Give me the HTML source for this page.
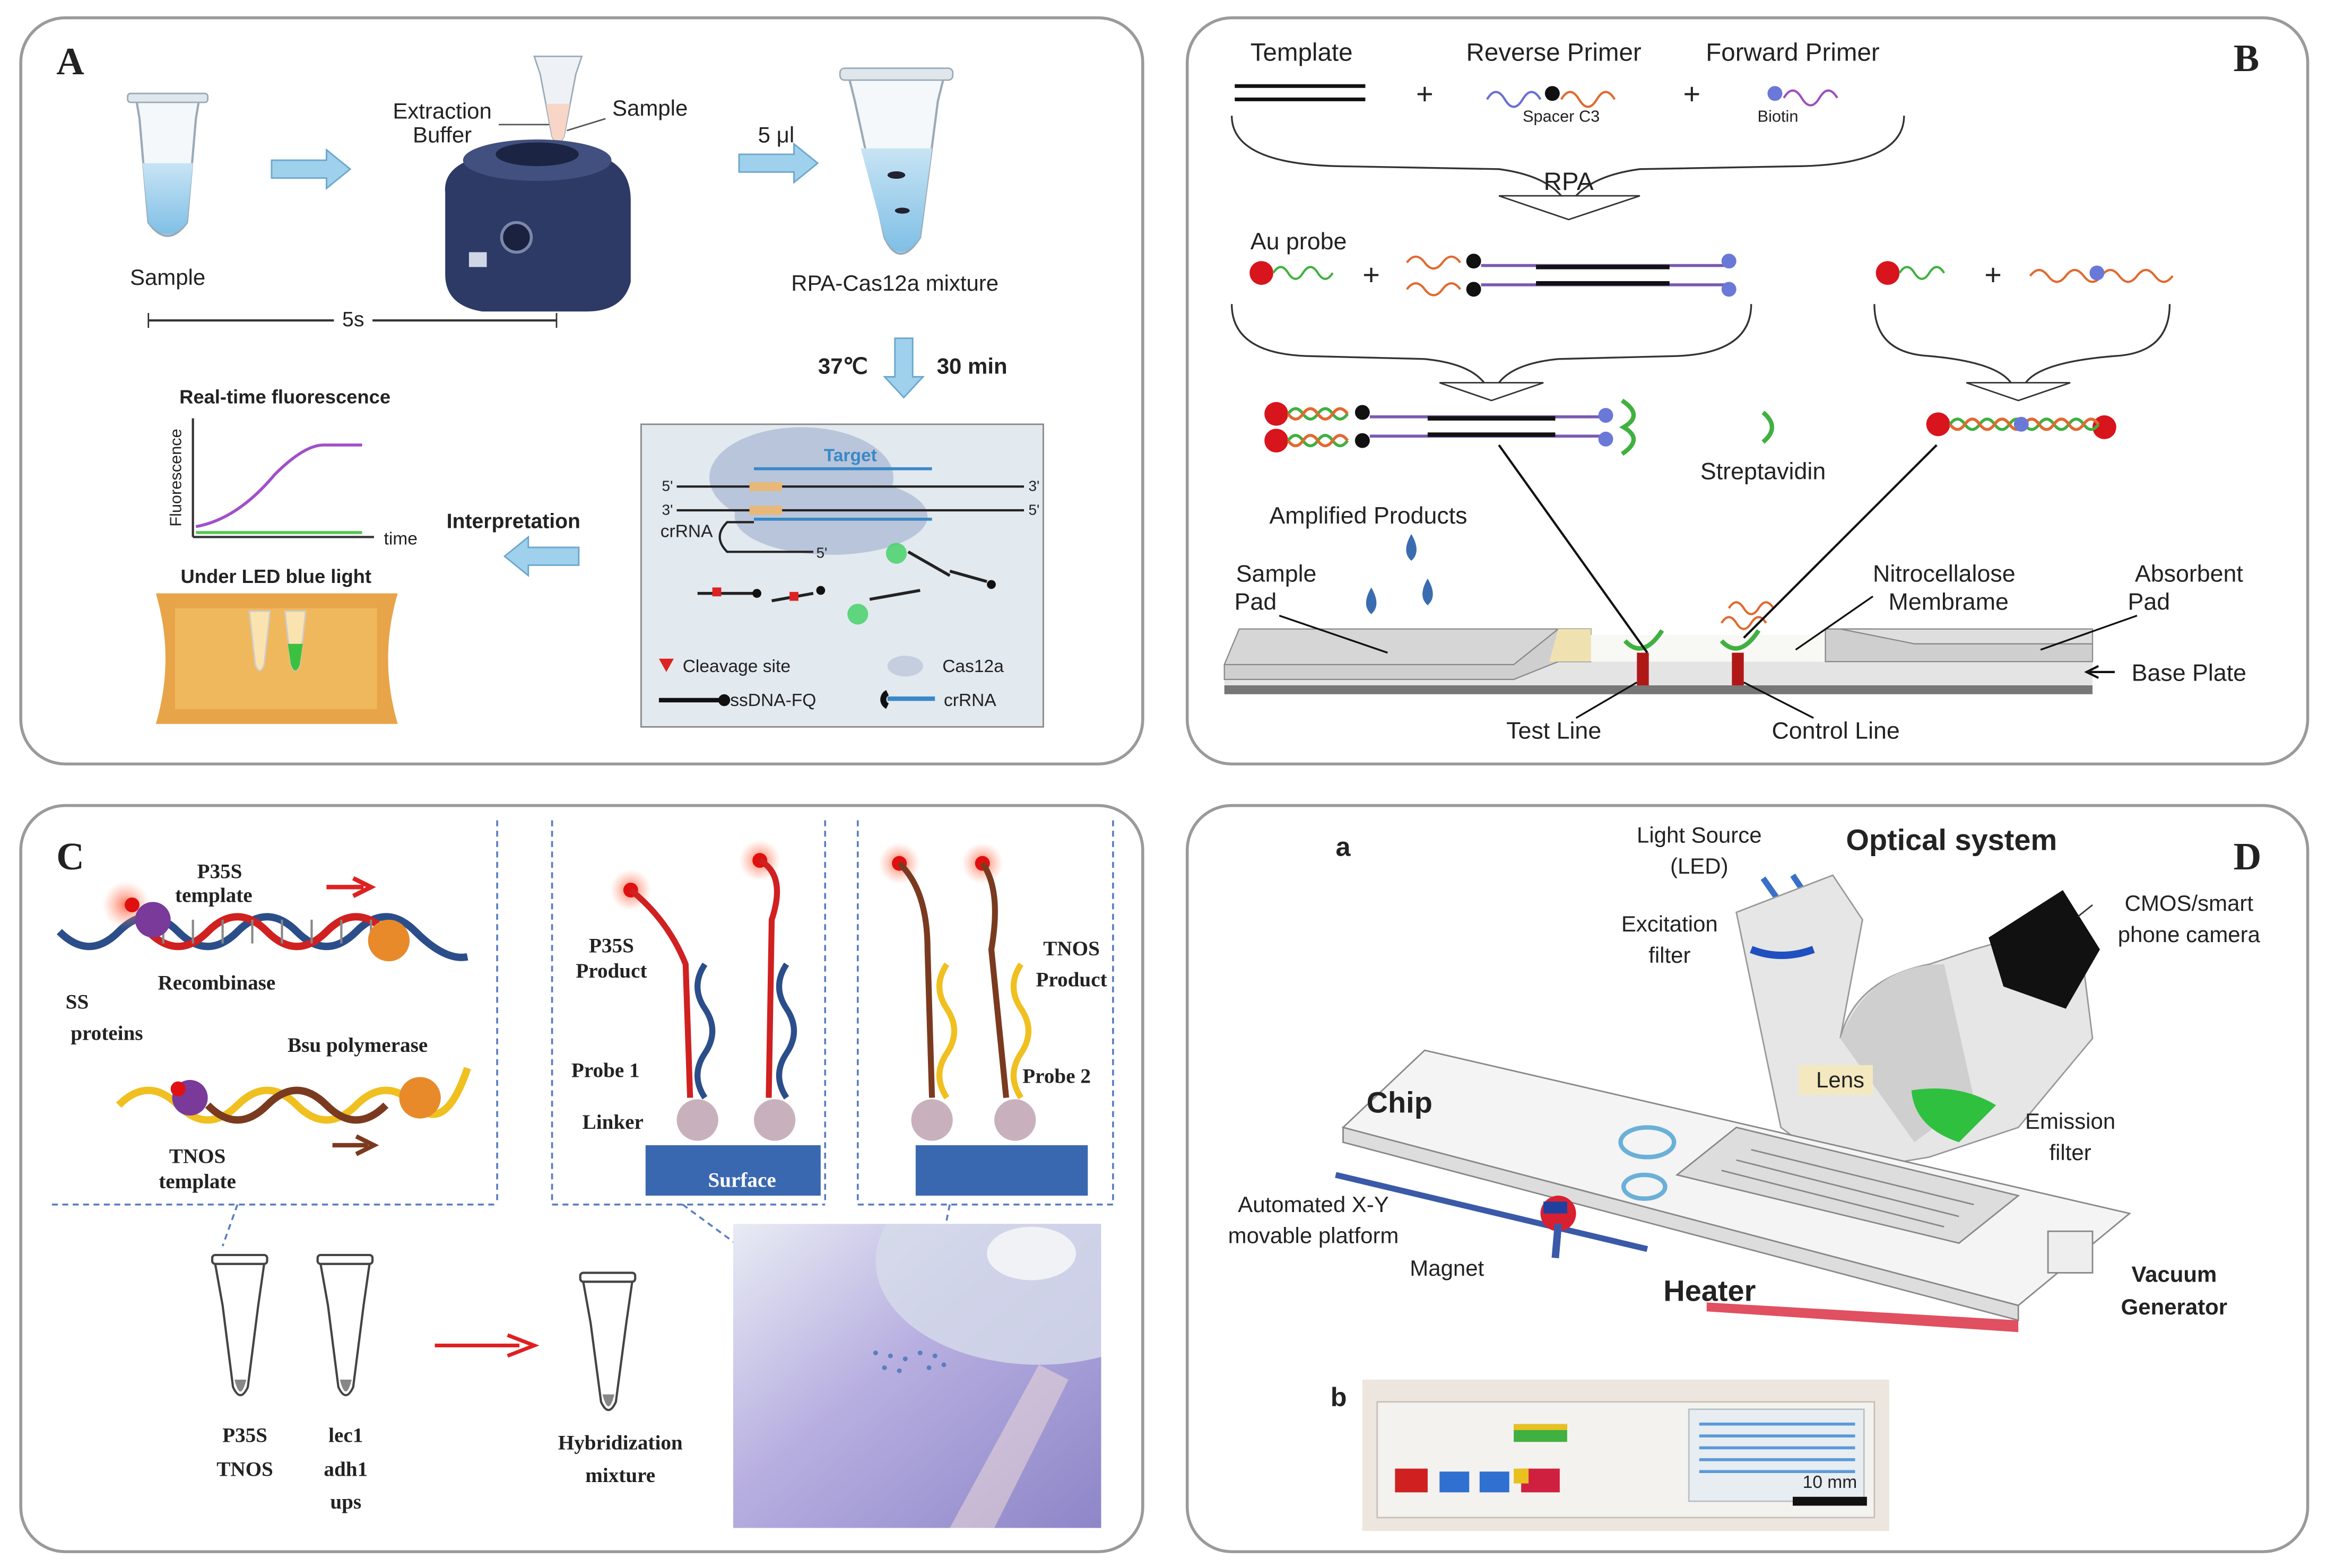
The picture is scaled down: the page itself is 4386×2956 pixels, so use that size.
<!DOCTYPE html>
<html><head><meta charset="utf-8"><style>
html,body{margin:0;padding:0;background:#fff;}
svg{display:block;}
.s{font-family:"Liberation Sans",sans-serif;fill:#222;}
.r{font-family:"Liberation Serif",serif;font-weight:bold;fill:#222;}
</style></head><body>
<svg width="4386" height="2956" viewBox="0 0 1568 1057" preserveAspectRatio="none" xmlns="http://www.w3.org/2000/svg">
<defs>
<linearGradient id="cd" x1="0" y1="0" x2="1" y2="1"><stop offset="0" stop-color="#e8ecf4"/><stop offset="0.45" stop-color="#b7aee0"/><stop offset="1" stop-color="#8d86c8"/></linearGradient>
<radialGradient id="glow"><stop offset="0" stop-color="#ff5030" stop-opacity="0.8"/><stop offset="1" stop-color="#ff9070" stop-opacity="0"/></radialGradient>
<linearGradient id="liq" x1="0" y1="0" x2="0" y2="1"><stop offset="0" stop-color="#c8e4f4"/><stop offset="1" stop-color="#7fbfe6"/></linearGradient>
<clipPath id="cdclip"><rect x="494" y="825" width="248" height="205"/></clipPath>
</defs>
<rect x="14" y="12" width="756" height="503" rx="30" fill="#fff" stroke="#9a9a9a" stroke-width="2"/>
<rect x="800" y="12" width="755" height="503" rx="30" fill="#fff" stroke="#9a9a9a" stroke-width="2"/>
<rect x="14" y="543" width="756" height="503" rx="30" fill="#fff" stroke="#9a9a9a" stroke-width="2"/>
<rect x="800" y="543" width="755" height="503" rx="30" fill="#fff" stroke="#9a9a9a" stroke-width="2"/>

<!-- ========== PANEL A ========== -->
<text x="38" y="50" class="r" font-size="26">A</text>
<path d="M92 68 L134 68 L132 80 L126 150 Q113 168 100 150 L94 80 Z" fill="#f4f8fb" stroke="#9aaab8" stroke-width="1.5"/>
<path d="M96 110 L130 110 L126 150 Q113 166 100 150 Z" fill="url(#liq)"/>
<rect x="86" y="63" width="54" height="6" rx="2" fill="#dfe6ec" stroke="#9aaab8"/>
<text x="113" y="192" class="s" font-size="15" text-anchor="middle">Sample</text>
<path d="M183 108 L220 108 L220 101 L236 114 L220 127 L220 120 L183 120 Z" fill="#9fd0ec" stroke="#6aa6cc"/>
<path d="M360 38 L392 38 L388 50 L380 92 Q376 100 372 92 L364 50 Z" fill="#eef2f6" stroke="#9aaab8"/>
<path d="M368 70 L384 70 L380 92 Q376 100 372 92Z" fill="#f7d6c8"/>
<path d="M300 130 Q298 110 330 104 L400 104 Q425 110 425 135 L425 190 Q420 210 395 210 L325 210 Q300 206 300 185 Z" fill="#2d3a66"/>
<ellipse cx="362" cy="108" rx="50" ry="14" fill="#41507e"/>
<ellipse cx="362" cy="104" rx="28" ry="8" fill="#1c2444"/>
<circle cx="348" cy="160" r="10" fill="#1b2240" stroke="#7c88aa" stroke-width="2"/>
<rect x="316" y="170" width="12" height="10" fill="#cfd6e4"/>
<text x="298" y="80" class="s" font-size="15" text-anchor="middle">Extraction</text>
<text x="298" y="96" class="s" font-size="15" text-anchor="middle">Buffer</text>
<line x1="336" y1="84" x2="370" y2="84" stroke="#555"/>
<text x="438" y="78" class="s" font-size="15" text-anchor="middle">Sample</text>
<line x1="408" y1="80" x2="382" y2="88" stroke="#555"/>
<text x="523" y="96" class="s" font-size="15" text-anchor="middle">5 μl</text>
<path d="M498 104 L535 104 L535 97 L551 110 L535 123 L535 116 L498 116 Z" fill="#9fd0ec" stroke="#6aa6cc"/>
<path d="M572 52 L636 52 L632 68 L620 160 Q606 182 596 160 L576 68 Z" fill="#f4f8fb" stroke="#9aaab8" stroke-width="1.5"/>
<path d="M580 100 L628 100 L620 160 Q606 180 596 160 Z" fill="url(#liq)"/>
<rect x="566" y="46" width="76" height="8" rx="3" fill="#dfe6ec" stroke="#9aaab8"/>
<ellipse cx="604" cy="118" rx="6" ry="2.5" fill="#223"/><ellipse cx="608" cy="142" rx="5" ry="2" fill="#223"/>
<text x="603" y="196" class="s" font-size="15" text-anchor="middle">RPA-Cas12a mixture</text>
<line x1="100" y1="216" x2="375" y2="216" stroke="#333" stroke-width="1.5"/>
<line x1="100" y1="211" x2="100" y2="221" stroke="#333"/><line x1="375" y1="211" x2="375" y2="221" stroke="#333"/>
<rect x="225" y="206" width="26" height="16" fill="#fff"/>
<text x="238" y="220" class="s" font-size="14" text-anchor="middle">5s</text>
<text x="568" y="252" class="s" font-size="15" font-weight="bold" text-anchor="middle">37℃</text>
<path d="M603 228 L615 228 L615 254 L622 254 L609 268 L596 254 L603 254 Z" fill="#9fd0ec" stroke="#6aa6cc"/>
<text x="655" y="252" class="s" font-size="15" font-weight="bold" text-anchor="middle">30 min</text>
<rect x="432" y="286" width="271" height="204" fill="#e2e9ef" stroke="#888"/>
<ellipse cx="540" cy="322" rx="62" ry="34" fill="#b9c5da"/>
<ellipse cx="560" cy="348" rx="65" ry="26" fill="#b9c5da"/>
<text x="573" y="311" class="s" font-size="12" font-weight="bold" text-anchor="middle" style="fill:#3a88c8">Target</text>
<line x1="508" y1="316" x2="628" y2="316" stroke="#3a88c8" stroke-width="2"/>
<line x1="456" y1="328" x2="690" y2="328" stroke="#222" stroke-width="1.5"/>
<line x1="456" y1="344" x2="690" y2="344" stroke="#222" stroke-width="1.5"/>
<line x1="508" y1="350" x2="628" y2="350" stroke="#3a88c8" stroke-width="2"/>
<rect x="505" y="325" width="22" height="6" fill="#e8b878"/><rect x="505" y="341" width="22" height="6" fill="#e8b878"/>
<path d="M508 352 L490 352 Q480 362 490 372 L548 372" fill="none" stroke="#222" stroke-width="1.5"/>
<text x="446" y="331" class="s" font-size="10">5'</text><text x="446" y="347" class="s" font-size="10">3'</text>
<text x="693" y="331" class="s" font-size="10">3'</text><text x="693" y="347" class="s" font-size="10">5'</text>
<text x="445" y="362" class="s" font-size="12">crRNA</text>
<text x="550" y="376" class="s" font-size="10">5'</text>
<circle cx="604" cy="373" r="7" fill="#3ed060" opacity="0.8"/><circle cx="578" cy="414" r="7" fill="#3ed060" opacity="0.8"/>
<path d="M470 400 L510 400 M520 405 L548 400 M612 372 L640 388 M640 385 L665 392 M586 404 L620 398" stroke="#222" stroke-width="2"/>
<circle cx="510" cy="400" r="3" fill="#111"/><circle cx="668" cy="394" r="3" fill="#111"/><circle cx="553" cy="398" r="3" fill="#111"/>
<rect x="480" y="396" width="6" height="6" fill="#d22"/><rect x="532" y="399" width="6" height="6" fill="#d22"/>
<path d="M444 444 L454 444 L449 453 Z" fill="#d22"/>
<text x="460" y="453" class="s" font-size="12">Cleavage site</text>
<ellipse cx="610" cy="449" rx="12" ry="7" fill="#c4cedf"/>
<text x="635" y="453" class="s" font-size="12">Cas12a</text>
<line x1="444" y1="472" x2="488" y2="472" stroke="#111" stroke-width="3"/><circle cx="488" cy="472" r="4" fill="#111"/>
<text x="492" y="476" class="s" font-size="12">ssDNA-FQ</text>
<line x1="598" y1="471" x2="630" y2="471" stroke="#3a88c8" stroke-width="3"/><path d="M598 467 A5 5 0 0 0 598 476" stroke="#111" stroke-width="4" fill="none"/>
<text x="636" y="476" class="s" font-size="12">crRNA</text>
<text x="192" y="272" class="s" font-size="13" font-weight="bold" text-anchor="middle">Real-time fluorescence</text>
<line x1="130" y1="282" x2="130" y2="362" stroke="#333" stroke-width="1.5"/>
<line x1="130" y1="362" x2="252" y2="362" stroke="#333" stroke-width="1.5"/>
<text x="122" y="322" class="s" font-size="11" text-anchor="middle" transform="rotate(-90 122 322)">Fluorescence</text>
<text x="270" y="367" class="s" font-size="12" text-anchor="middle">time</text>
<path d="M132 355 Q160 350 185 320 Q205 300 218 300 L244 300" fill="none" stroke="#a050c8" stroke-width="2"/>
<line x1="132" y1="359" x2="244" y2="359" stroke="#50c850" stroke-width="2"/>
<text x="346" y="356" class="s" font-size="14" font-weight="bold" text-anchor="middle">Interpretation</text>
<path d="M390 369 L356 369 L356 362 L340 375 L356 388 L356 381 L390 381 Z" fill="#9fd0ec" stroke="#6aa6cc"/>
<text x="186" y="393" class="s" font-size="13" font-weight="bold" text-anchor="middle">Under LED blue light</text>
<path d="M105 400 L268 400 Q255 444 268 488 L105 488 Q118 444 105 400Z" fill="#e8a448"/>
<rect x="118" y="410" width="136" height="68" fill="#f0b85c"/>
<path d="M168 412 L182 412 L178 448 Q175 456 172 448 Z" fill="#fbe3b0" stroke="#ccc"/>
<path d="M192 412 L206 412 L202 448 Q199 456 196 448 Z" fill="#fbe3b0" stroke="#ccc"/>
<path d="M194 434 L204 434 L202 448 Q199 456 196 448 Z" fill="#3cc040"/>

<!-- ========== PANEL B ========== -->
<text x="1505" y="48" class="r" font-size="26">B</text>
<text x="877" y="41" class="s" font-size="17" text-anchor="middle">Template</text>
<line x1="832" y1="58" x2="920" y2="58" stroke="#111" stroke-width="2.5"/><line x1="832" y1="67" x2="920" y2="67" stroke="#111" stroke-width="2.5"/>
<text x="960" y="70" class="s" font-size="20" text-anchor="middle">+</text>
<text x="1047" y="41" class="s" font-size="17" text-anchor="middle">Reverse Primer</text>
<path d="M1002 67 q6 -10 12 0 t12 0 t12 0" fill="none" stroke="#6a70d0" stroke-width="1.5"/>
<circle cx="1046" cy="63" r="5" fill="#111"/>
<path d="M1052 67 q6 -10 12 0 t12 0 t12 0" fill="none" stroke="#e06a30" stroke-width="1.5"/>
<text x="1052" y="82" class="s" font-size="11" text-anchor="middle">Spacer C3</text>
<text x="1140" y="70" class="s" font-size="20" text-anchor="middle">+</text>
<text x="1208" y="41" class="s" font-size="17" text-anchor="middle">Forward Primer</text>
<circle cx="1196" cy="63" r="5" fill="#6a78d8"/>
<path d="M1202 66 q6 -10 12 0 t12 0 t12 0" fill="none" stroke="#9a50c0" stroke-width="1.5"/>
<text x="1198" y="82" class="s" font-size="11" text-anchor="middle">Biotin</text>
<path d="M830 78 Q830 110 900 112 L1010 114 Q1040 118 1052 132 M1283 78 Q1283 110 1215 112 L1105 114 Q1075 118 1062 132" fill="none" stroke="#333" stroke-width="1.2"/>
<path d="M1010 132 L1105 132 L1057 148 Z" fill="#fff" stroke="#333"/>
<text x="1057" y="128" class="s" font-size="17" text-anchor="middle">RPA</text>
<text x="875" y="168" class="s" font-size="16" text-anchor="middle">Au probe</text>
<circle cx="850" cy="184" r="8" fill="#d8141c"/>
<path d="M858 184 q5 -8 10 0 t10 0 t10 0 t10 0" fill="none" stroke="#40b040" stroke-width="1.5"/>
<text x="924" y="192" class="s" font-size="20" text-anchor="middle">+</text>
<path d="M948 177 q6 -8 12 0 t12 0 t12 0" fill="none" stroke="#e06a30" stroke-width="1.5"/>
<path d="M948 195 q6 -8 12 0 t12 0 t12 0" fill="none" stroke="#e06a30" stroke-width="1.5"/>
<circle cx="993" cy="176" r="5" fill="#111"/><circle cx="993" cy="195" r="5" fill="#111"/>
<line x1="998" y1="179" x2="1165" y2="179" stroke="#7a5ab0" stroke-width="2"/><line x1="998" y1="192" x2="1165" y2="192" stroke="#7a5ab0" stroke-width="2"/>
<line x1="1035" y1="180" x2="1125" y2="180" stroke="#111" stroke-width="3"/><line x1="1035" y1="191" x2="1125" y2="191" stroke="#111" stroke-width="3"/>
<circle cx="1165" cy="176" r="5" fill="#6a78d8"/><circle cx="1165" cy="195" r="5" fill="#6a78d8"/>
<circle cx="1272" cy="184" r="8" fill="#d8141c"/>
<path d="M1280 184 q5 -8 10 0 t10 0 t10 0" fill="none" stroke="#40b040" stroke-width="1.5"/>
<text x="1343" y="192" class="s" font-size="20" text-anchor="middle">+</text>
<path d="M1368 186 q6 -8 12 0 t12 0 t12 0 t12 0 t12 0 t12 0 t12 0 t12 0" fill="none" stroke="#e06a30" stroke-width="1.5"/>
<circle cx="1413" cy="184" r="5" fill="#6a78d8"/>
<path d="M830 205 Q830 238 880 240 L960 242 Q990 245 1000 258 M1180 205 Q1180 238 1130 240 L1050 242 Q1020 245 1010 258" fill="none" stroke="#333" stroke-width="1.2"/>
<path d="M970 258 L1040 258 L1005 270 Z" fill="#fff" stroke="#333"/>
<path d="M1263 205 Q1263 238 1300 240 Q1345 244 1355 258 M1462 205 Q1462 238 1425 240 Q1375 244 1365 258" fill="none" stroke="#333" stroke-width="1.2"/>
<path d="M1325 258 L1395 258 L1360 270 Z" fill="#fff" stroke="#333"/>
<circle cx="860" cy="279" r="8" fill="#d8141c"/><circle cx="860" cy="297" r="8" fill="#d8141c"/>
<path d="M868 279 q5 -7 10 0 t10 0 t10 0 t10 0 M868 297 q5 -7 10 0 t10 0 t10 0 t10 0" fill="none" stroke="#40b040" stroke-width="2"/>
<path d="M868 279 q5 7 10 0 t10 0 t10 0 t10 0 M868 297 q5 7 10 0 t10 0 t10 0 t10 0" fill="none" stroke="#e06a30" stroke-width="2"/>
<circle cx="918" cy="278" r="5" fill="#111"/><circle cx="918" cy="297" r="5" fill="#111"/>
<line x1="923" y1="281" x2="1082" y2="281" stroke="#7a5ab0" stroke-width="2"/><line x1="923" y1="294" x2="1082" y2="294" stroke="#7a5ab0" stroke-width="2"/>
<line x1="962" y1="282" x2="1048" y2="282" stroke="#111" stroke-width="3"/><line x1="962" y1="293" x2="1048" y2="293" stroke="#111" stroke-width="3"/>
<circle cx="1082" cy="280" r="5" fill="#6a78d8"/><circle cx="1082" cy="296" r="5" fill="#6a78d8"/>
<path d="M1093 270 Q1108 280 1094 288 Q1108 296 1093 306" fill="none" stroke="#40b040" stroke-width="3"/>
<path d="M1188 278 Q1200 288 1188 298" fill="none" stroke="#40b040" stroke-width="3"/>
<text x="1188" y="323" class="s" font-size="16" text-anchor="middle">Streptavidin</text>
<circle cx="1306" cy="286" r="8" fill="#d8141c"/><circle cx="1418" cy="288" r="8" fill="#d8141c"/>
<path d="M1314 286 q5 -7 10 0 t10 0 t10 0 t10 0 t10 0 t10 0 t10 0 t10 0 t10 0 t10 0" fill="none" stroke="#40b040" stroke-width="2"/>
<path d="M1314 286 q5 7 10 0 t10 0 t10 0 t10 0 t10 0 t10 0 t10 0 t10 0 t10 0 t10 0" fill="none" stroke="#e06a30" stroke-width="2"/>
<circle cx="1362" cy="286" r="5" fill="#6a78d8"/>
<text x="922" y="353" class="s" font-size="16" text-anchor="middle">Amplified Products</text>
<path d="M951 360 Q944 372 951 378 Q958 372 951 360Z M924 396 Q917 408 924 414 Q931 408 924 396Z M962 390 Q955 402 962 408 Q969 402 962 390Z" fill="#3a6cb0"/>
<path d="M825 458 L1020 458 L1050 446 L1410 446 L1410 462 L825 462 Z" fill="#e4e4e4"/>
<path d="M825 462 L1410 462 L1410 468 L825 468 Z" fill="#777"/>
<path d="M825 448 L1020 448 L1050 424 L1072 424 L1072 446 L1050 446 L1020 458 L825 458 Z" fill="#cfcfcf" stroke="#888" stroke-width="0.8"/>
<path d="M835 424 L1050 424 L1020 448 L825 448 Z" fill="#d6d6d6" stroke="#888" stroke-width="0.8"/>
<path d="M1050 424 L1072 424 L1072 446 L1044 446 Z" fill="#f0e2b0"/>
<path d="M1072 428 L1230 428 L1230 446 L1072 446 Z" fill="#f8f8f4"/>
<path d="M1230 446 L1230 424 L1262 424 L1290 434 L1410 434 L1410 446 Z" fill="#cfcfcf" stroke="#888" stroke-width="0.8"/>
<path d="M1240 424 L1410 424 L1410 434 L1290 434 Z" fill="#dedede" stroke="#888" stroke-width="0.8"/>
<rect x="1103" y="440" width="8" height="22" fill="#b01818"/><rect x="1167" y="440" width="8" height="22" fill="#b01818"/>
<path d="M1095 432 Q1107 445 1120 425 M1160 432 Q1172 445 1185 425" fill="none" stroke="#40b040" stroke-width="3"/>
<path d="M1160 420 q5 -8 10 0 t10 0 t10 0 M1165 410 q5 -8 10 0 t10 0 t10 0" fill="none" stroke="#e06a30" stroke-width="1.5"/>
<line x1="1010" y1="300" x2="1110" y2="440" stroke="#111" stroke-width="1.5"/>
<line x1="1305" y1="300" x2="1175" y2="430" stroke="#111" stroke-width="1.5"/>
<text x="860" y="392" class="s" font-size="16" text-anchor="middle">Sample</text>
<text x="846" y="411" class="s" font-size="16" text-anchor="middle">Pad</text>
<line x1="862" y1="415" x2="935" y2="440" stroke="#111" stroke-width="1.2"/>
<text x="1310" y="392" class="s" font-size="16" text-anchor="middle">Nitrocellalose</text>
<text x="1313" y="411" class="s" font-size="16" text-anchor="middle">Membrame</text>
<line x1="1262" y1="402" x2="1210" y2="438" stroke="#111" stroke-width="1.2"/>
<text x="1475" y="392" class="s" font-size="16" text-anchor="middle">Absorbent</text>
<text x="1448" y="411" class="s" font-size="16" text-anchor="middle">Pad</text>
<line x1="1440" y1="415" x2="1375" y2="438" stroke="#111" stroke-width="1.2"/>
<text x="1475" y="459" class="s" font-size="16" text-anchor="middle">Base Plate</text>
<path d="M1425 453 L1408 453 M1414 449 L1406 453 L1414 457" fill="none" stroke="#111" stroke-width="1.5"/>
<text x="1047" y="498" class="s" font-size="16" text-anchor="middle">Test Line</text>
<line x1="1062" y1="484" x2="1103" y2="460" stroke="#111" stroke-width="1.2"/>
<text x="1237" y="498" class="s" font-size="16" text-anchor="middle">Control Line</text>
<line x1="1222" y1="484" x2="1175" y2="460" stroke="#111" stroke-width="1.2"/>

<!-- ========== PANEL C ========== -->
<text x="38" y="586" class="r" font-size="26">C</text>
<g stroke="#5a7ec0" stroke-width="1.3" stroke-dasharray="4 3" fill="none">
<line x1="335" y1="553" x2="335" y2="812"/><line x1="35" y1="812" x2="335" y2="812"/>
<line x1="372" y1="553" x2="372" y2="812"/><line x1="556" y1="553" x2="556" y2="812"/><line x1="372" y1="812" x2="556" y2="812"/>
<line x1="578" y1="553" x2="578" y2="812"/><line x1="750" y1="553" x2="750" y2="812"/><line x1="578" y1="812" x2="750" y2="812"/>
<line x1="160" y1="812" x2="150" y2="840"/>
<line x1="460" y1="812" x2="600" y2="915"/><line x1="640" y1="812" x2="620" y2="910"/>
</g>
<path d="M40 628 Q60 648 80 628 Q100 608 120 628 T160 628 T200 628 T240 628 T280 628 T315 645" fill="none" stroke="#2b4e8a" stroke-width="5"/>
<path d="M100 628 Q120 648 140 628 T180 628 T220 628 T260 628" fill="none" stroke="#d02020" stroke-width="5"/>
<g stroke="#888" stroke-width="1.5">
<line x1="110" y1="620" x2="110" y2="636"/><line x1="130" y1="620" x2="130" y2="636"/><line x1="150" y1="620" x2="150" y2="636"/><line x1="170" y1="620" x2="170" y2="636"/><line x1="190" y1="620" x2="190" y2="636"/><line x1="210" y1="620" x2="210" y2="636"/><line x1="230" y1="620" x2="230" y2="636"/><line x1="250" y1="620" x2="250" y2="636"/>
</g>
<circle cx="85" cy="610" r="16" fill="url(#glow)"/><circle cx="103" cy="620" r="12" fill="#7a3a9a"/><circle cx="89" cy="610" r="5" fill="#e01010"/>
<circle cx="262" cy="634" r="14" fill="#e88a2a"/>
<path d="M220 598 L245 598 M238 592 L250 598 L238 604" stroke="#e02020" stroke-width="3" fill="none"/>
<text x="148" y="592" class="r" font-size="14" text-anchor="middle">P35S</text>
<text x="144" y="608" class="r" font-size="14" text-anchor="middle">template</text>
<text x="146" y="667" class="r" font-size="14" text-anchor="middle">Recombinase</text>
<text x="52" y="680" class="r" font-size="14" text-anchor="middle">SS</text>
<text x="72" y="701" class="r" font-size="14" text-anchor="middle">proteins</text>
<text x="241" y="709" class="r" font-size="14" text-anchor="middle">Bsu polymerase</text>
<path d="M80 745 Q100 725 120 745 T160 745 T200 745 T240 745 T280 745 T315 720" fill="none" stroke="#f0c020" stroke-width="5"/>
<path d="M140 745 Q160 765 180 745 T220 745 T260 745" fill="none" stroke="#7a3a20" stroke-width="5"/>
<circle cx="128" cy="740" r="12" fill="#7a3a9a"/><circle cx="120" cy="734" r="5" fill="#e01010"/>
<circle cx="283" cy="740" r="14" fill="#e88a2a"/>
<path d="M224 772 L248 772 M240 766 L252 772 L240 778" stroke="#7a3a20" stroke-width="3" fill="none"/>
<text x="133" y="784" class="r" font-size="14" text-anchor="middle">TNOS</text>
<text x="133" y="801" class="r" font-size="14" text-anchor="middle">template</text>
<circle cx="425" cy="600" r="14" fill="url(#glow)"/><circle cx="425" cy="600" r="5" fill="#e01010"/>
<circle cx="512" cy="580" r="14" fill="url(#glow)"/><circle cx="512" cy="580" r="5" fill="#e01010"/>
<path d="M425 600 Q450 620 462 650 L465 740 M512 580 Q530 590 520 620 L518 740" fill="none" stroke="#d02020" stroke-width="4"/>
<path d="M475 650 Q465 665 475 680 T475 710 T475 740 M530 650 Q520 665 530 680 T530 710 T530 740" fill="none" stroke="#2b4e8a" stroke-width="4"/>
<circle cx="470" cy="755" r="14" fill="#b090a0" opacity="0.7"/><circle cx="522" cy="755" r="14" fill="#b090a0" opacity="0.7"/>
<rect x="435" y="772" width="118" height="34" fill="#3a68b0"/>
<text x="500" y="800" class="r" font-size="14" text-anchor="middle" style="fill:#fff">Surface</text>
<text x="412" y="642" class="r" font-size="14" text-anchor="middle">P35S</text>
<text x="412" y="659" class="r" font-size="14" text-anchor="middle">Product</text>
<text x="408" y="726" class="r" font-size="14" text-anchor="middle">Probe 1</text>
<text x="413" y="761" class="r" font-size="14" text-anchor="middle">Linker</text>
<circle cx="606" cy="582" r="14" fill="url(#glow)"/><circle cx="606" cy="582" r="5" fill="#e01010"/>
<circle cx="662" cy="582" r="14" fill="url(#glow)"/><circle cx="662" cy="582" r="5" fill="#e01010"/>
<path d="M606 582 Q625 600 625 640 L628 740 M662 582 Q675 600 668 640 L678 740" fill="none" stroke="#7a3a20" stroke-width="4"/>
<path d="M638 650 Q628 665 638 680 T638 710 T638 740 M688 650 Q678 665 688 680 T688 710 T688 740" fill="none" stroke="#f0c020" stroke-width="4"/>
<circle cx="628" cy="755" r="14" fill="#b090a0" opacity="0.7"/><circle cx="684" cy="755" r="14" fill="#b090a0" opacity="0.7"/>
<rect x="617" y="772" width="116" height="34" fill="#3a68b0"/>
<text x="722" y="644" class="r" font-size="14" text-anchor="middle">TNOS</text>
<text x="722" y="665" class="r" font-size="14" text-anchor="middle">Product</text>
<text x="712" y="730" class="r" font-size="14" text-anchor="middle">Probe 2</text>
<g fill="#fff" stroke="#444" stroke-width="1.5">
<path d="M145 852 L178 852 L174 880 L167 935 Q162 946 157 935 L150 880 Z"/><rect x="143" y="846" width="37" height="6" rx="2"/>
<path d="M216 852 L249 852 L245 880 L238 935 Q233 946 228 935 L221 880 Z"/><rect x="214" y="846" width="37" height="6" rx="2"/>
<path d="M393 864 L426 864 L422 892 L415 945 Q410 956 405 945 L398 892 Z"/><rect x="391" y="858" width="37" height="6" rx="2"/>
</g>
<path d="M158 930 L166 930 Q162 946 158 930Z M229 930 L237 930 Q233 946 229 930Z M406 940 L414 940 Q410 956 406 940Z" fill="#888"/>
<text x="165" y="972" class="r" font-size="14" text-anchor="middle">P35S</text>
<text x="165" y="995" class="r" font-size="14" text-anchor="middle">TNOS</text>
<text x="233" y="972" class="r" font-size="14" text-anchor="middle">lec1</text>
<text x="233" y="995" class="r" font-size="14" text-anchor="middle">adh1</text>
<text x="233" y="1017" class="r" font-size="14" text-anchor="middle">ups</text>
<text x="418" y="977" class="r" font-size="14" text-anchor="middle">Hybridization</text>
<text x="418" y="999" class="r" font-size="14" text-anchor="middle">mixture</text>
<path d="M293 907 L350 907 M342 900 L360 907 L342 914" stroke="#e02020" stroke-width="2.5" fill="none"/>
<g clip-path="url(#cdclip)">
<rect x="494" y="825" width="248" height="205" fill="url(#cd)"/>
<ellipse cx="700" cy="850" rx="110" ry="70" fill="#d6dcea" opacity="0.8"/>
<ellipse cx="695" cy="845" rx="30" ry="18" fill="#f0f2f6"/>
<path d="M640 1030 L700 920 L720 930 L670 1030 Z" fill="#f4e0d8" opacity="0.5"/>
</g>
<g fill="#5a7ec0"><circle cx="590" cy="912" r="1.6"/><circle cx="600" cy="914" r="1.6"/><circle cx="610" cy="916" r="1.6"/><circle cx="620" cy="912" r="1.6"/><circle cx="630" cy="914" r="1.6"/><circle cx="596" cy="922" r="1.6"/><circle cx="606" cy="924" r="1.6"/><circle cx="626" cy="922" r="1.6"/><circle cx="636" cy="920" r="1.6"/></g>

<!-- ========== PANEL D ========== -->
<text x="905" y="577" class="s" font-size="18" font-weight="bold" text-anchor="middle">a</text>
<text x="1505" y="586" class="r" font-size="26">D</text>
<text x="1315" y="573" class="s" font-size="20" font-weight="bold" text-anchor="middle">Optical system</text>
<text x="1145" y="568" class="s" font-size="15" text-anchor="middle">Light Source</text>
<text x="1145" y="589" class="s" font-size="15" text-anchor="middle">(LED)</text>
<path d="M1188 592 L1202 612 M1208 590 L1220 608" stroke="#3a70c8" stroke-width="4"/>
<path d="M1170 615 L1235 590 L1255 620 L1240 700 Q1250 660 1300 650 L1330 640 L1400 620 L1410 700 L1360 760 L1300 780 L1240 790 L1200 760 Z" fill="#e6e6e6" stroke="#999"/>
<path d="M1240 700 Q1260 650 1310 650 L1330 740 L1290 770 Z" fill="#cfcfcf"/>
<path d="M1340 632 L1390 600 L1415 640 L1392 680 L1350 665 Z" fill="#111"/>
<path d="M1180 640 Q1200 648 1222 640" stroke="#2050c0" stroke-width="5" fill="none"/>
<rect x="1212" y="718" width="50" height="20" fill="#f4e8c0"/>
<path d="M1288 735 Q1320 730 1345 745 L1320 770 Q1290 760 1288 735Z" fill="#30c040"/>
<text x="1475" y="614" class="s" font-size="15" text-anchor="middle">CMOS/smart</text>
<text x="1475" y="635" class="s" font-size="15" text-anchor="middle">phone camera</text>
<line x1="1410" y1="610" x2="1400" y2="618" stroke="#333"/>
<text x="1125" y="628" class="s" font-size="15" text-anchor="middle">Excitation</text>
<text x="1125" y="649" class="s" font-size="15" text-anchor="middle">filter</text>
<text x="1240" y="733" class="s" font-size="15" text-anchor="middle">Lens</text>
<text x="1395" y="761" class="s" font-size="15" text-anchor="middle">Emission</text>
<text x="1395" y="782" class="s" font-size="15" text-anchor="middle">filter</text>
<path d="M905 760 L960 708 L1435 818 L1360 880 Z" fill="#f4f4f4" stroke="#888"/>
<path d="M905 760 L1360 880 L1360 890 L905 770 Z" fill="#ddd" stroke="#888"/>
<path d="M1150 878 L1360 890 L1360 898 L1150 884 Z" fill="#e05060"/>
<path d="M1170 760 L1360 806 L1320 838 L1130 792 Z" fill="#ddd" stroke="#888"/>
<g stroke="#888" fill="none"><line x1="1180" y1="775" x2="1330" y2="812"/><line x1="1170" y1="782" x2="1320" y2="820"/><line x1="1160" y1="789" x2="1310" y2="827"/></g>
<ellipse cx="1110" cy="770" rx="18" ry="10" fill="none" stroke="#6ab0d8" stroke-width="3"/>
<ellipse cx="1108" cy="800" rx="14" ry="8" fill="none" stroke="#6ab0d8" stroke-width="3"/>
<rect x="1380" y="830" width="30" height="28" fill="#eee" stroke="#888"/>
<path d="M900 792 L1110 842" stroke="#3a5aa8" stroke-width="4"/>
<circle cx="1050" cy="818" r="12" fill="#d82030"/><rect x="1040" y="810" width="16" height="8" fill="#2040a0"/>
<line x1="1050" y1="825" x2="1048" y2="848" stroke="#3a5aa8" stroke-width="5"/>
<text x="943" y="750" class="s" font-size="20" font-weight="bold" text-anchor="middle">Chip</text>
<text x="885" y="817" class="s" font-size="15" text-anchor="middle">Automated X-Y</text>
<text x="885" y="838" class="s" font-size="15" text-anchor="middle">movable platform</text>
<text x="975" y="860" class="s" font-size="15" text-anchor="middle">Magnet</text>
<text x="1152" y="877" class="s" font-size="20" font-weight="bold" text-anchor="middle">Heater</text>
<text x="1465" y="864" class="s" font-size="15" font-weight="bold" text-anchor="middle">Vacuum</text>
<text x="1465" y="886" class="s" font-size="15" font-weight="bold" text-anchor="middle">Generator</text>
<text x="902" y="948" class="s" font-size="18" font-weight="bold" text-anchor="middle">b</text>
<rect x="918" y="930" width="355" height="102" fill="#ece6de"/>
<rect x="928" y="945" width="335" height="78" fill="#f4f2ee" stroke="#c8c0b8"/>
<rect x="1138" y="950" width="118" height="62" fill="#e8edf2" stroke="#b8c0c8"/>
<g stroke="#5a9ad8" stroke-width="2"><line x1="1145" y1="960" x2="1250" y2="960"/><line x1="1145" y1="968" x2="1250" y2="968"/><line x1="1145" y1="976" x2="1250" y2="976"/><line x1="1145" y1="984" x2="1250" y2="984"/><line x1="1145" y1="992" x2="1250" y2="992"/></g>
<rect x="1020" y="960" width="36" height="12" fill="#40b040"/><rect x="1020" y="960" width="36" height="4" fill="#e8c020"/>
<rect x="940" y="990" width="22" height="16" fill="#d02020"/><rect x="970" y="992" width="20" height="14" fill="#3070d0"/><rect x="997" y="992" width="20" height="14" fill="#3070d0"/><rect x="1025" y="990" width="26" height="16" fill="#d02040"/><rect x="1020" y="990" width="10" height="10" fill="#e8c020"/>
<text x="1233" y="1003" class="s" font-size="12" text-anchor="middle">10 mm</text>
<rect x="1208" y="1009" width="50" height="6" fill="#111"/>
</svg>
</body></html>
